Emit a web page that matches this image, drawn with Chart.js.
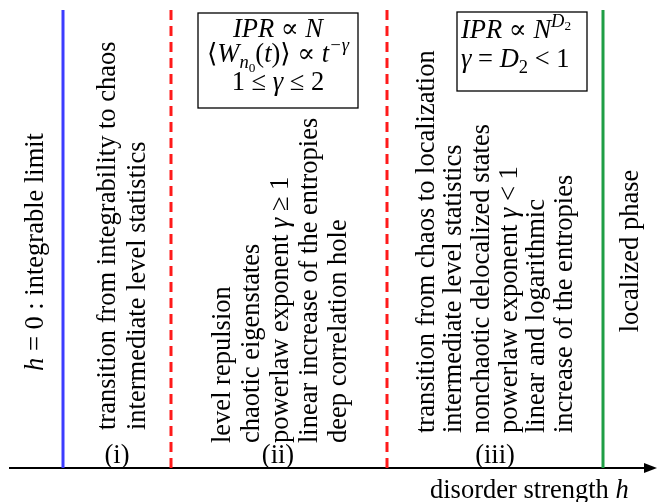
<!DOCTYPE html>
<html>
<head>
<meta charset="utf-8">
<script src="https://cdn.jsdelivr.net/npm/chart.js@4.4.1/dist/chart.umd.min.js"></script>
<style>
  html, body { margin: 0; padding: 0; background: #fff; }
  canvas { display: block; }
</style>
</head>
<body>
<canvas id="chart" width="657" height="502"></canvas>
<script>
// Schematic phase diagram along the disorder strength h (arbitrary units)
const axisRange = [-0.5, 5.5];
const hIntegrable = 0;          // blue solid line, h = 0
const hCrossovers = [1, 3];     // red dashed lines
const hLocalized = 5;           // green solid line

// text runs: [string, style]  style: '' roman, 'i' italic, 'sub', 'isub', 'sup', 'isup', 'ssub'
const leftLabel = [['h', 'i'], [' = 0 : integrable limit', '']];
const regionI = [
    [['transition from integrability to chaos', '']],
    [['intermediate level statistics', '']]
];
const regionII = [
    [['level repulsion', '']],
    [['chaotic eigenstates', '']],
    [['powerlaw exponent ', ''], ['γ', 'i'], [' ≥ 1', '']],
    [['linear increase of the entropies', '']],
    [['deep correlation hole', '']]
];
const regionIII = [
    [['transition from chaos to localization', '']],
    [['intermediate level statistics', '']],
    [['nonchaotic delocalized states', '']],
    [['powerlaw exponent ', ''], ['γ', 'i'], [' < 1', '']],
    [['linear and logarithmic', '']],
    [['increase of the entropies', '']]
];
const rightLabel = [['localized phase', '']];
const regionTags = ['(i)', '(ii)', '(iii)'];
const boxII = [
    [['IPR', 'i'], [' ∝ ', ''], ['N', 'i']],
    [['⟨', ''], ['W', 'i'], ['n', 'isub'], ['0', 'ssub'], ['(', ''], ['t', 'i'], [')⟩ ∝ ', ''], ['t', 'i'], ['−γ', 'isup']],
    [['1 ≤ ', ''], ['γ', 'i'], [' ≤ 2', '']]
];
const boxIII = [
    [['IPR', 'i'], [' ∝ ', ''], ['N', 'i'], ['D', 'isup'], ['2', 'ssup']],
    [['γ', 'i'], [' = ', ''], ['D', 'i'], ['2', 'sub'], [' < 1', '']]
];
const xTitle = [['disorder strength ', ''], ['h', 'i']];

const FONT = '"Liberation Serif", "DejaVu Serif", serif';
const BASE = 26.5;

function runStyle(style) {
    let scale = 1, dy = 0, italic = false;
    if (style === 'i') italic = true;
    if (style === 'sub' || style === 'isub') { scale = 0.7; dy = 0.22; }
    if (style === 'sup' || style === 'isup') { scale = 0.7; dy = -0.42; }
    if (style === 'ssub') { scale = 0.5; dy = 0.36; }
    if (style === 'ssup') { scale = 0.5; dy = -0.3; }
    if (style === 'isub' || style === 'isup') italic = true;
    return { scale, dy, italic };
}

function drawRuns(ctx, runs, x, y, align, size) {
    const parts = runs.map(([t, s]) => {
        const st = runStyle(s);
        const font = (st.italic ? 'italic ' : '') + (size * st.scale).toFixed(1) + 'px ' + FONT;
        ctx.font = font;
        return { t, font, dy: st.dy * size, w: ctx.measureText(t).width };
    });
    const total = parts.reduce((a, p) => a + p.w, 0);
    let cx = align === 'center' ? x - total / 2 : x;
    ctx.textAlign = 'left';
    ctx.textBaseline = 'alphabetic';
    parts.forEach(p => {
        ctx.font = p.font;
        ctx.fillText(p.t, cx, y + p.dy);
        cx += p.w;
    });
}

function drawVertical(ctx, runs, x, y, align, size) {
    ctx.save();
    ctx.translate(x, y);
    ctx.rotate(-Math.PI / 2);
    drawRuns(ctx, runs, 0, 0.33 * size, align, size);
    ctx.restore();
}

const annotations = {
    id: 'annotations',
    afterDraw(chart) {
        const ctx = chart.ctx;
        const xs = chart.scales.x;
        const area = chart.chartArea;
        ctx.save();
        ctx.fillStyle = '#000';

        // arrow head on the h axis
        const tip = xs.getPixelForValue(axisRange[1]);
        ctx.beginPath();
        ctx.moveTo(tip, area.bottom);
        ctx.lineTo(tip - 13, area.bottom - 5);
        ctx.lineTo(tip - 13, area.bottom + 5);
        ctx.closePath();
        ctx.fill();

        // vertical texts
        drawVertical(ctx, leftLabel, 34, 252, 'center', BASE);
        regionI.forEach((r, i) => drawVertical(ctx, r, 106 + i * 30, 430, 'left', BASE));
        regionII.forEach((r, i) => drawVertical(ctx, r, 221 + i * 29, 443, 'left', BASE));
        regionIII.forEach((r, i) => drawVertical(ctx, r, 425 + i * 27.6, 433, 'left', BASE));
        drawVertical(ctx, rightLabel, 629, 251, 'center', BASE);

        // region tags
        const tagX = [117, 278, 495];
        regionTags.forEach((t, i) => drawRuns(ctx, [[t, '']], tagX[i], 463, 'center', BASE));

        // boxes
        ctx.strokeStyle = '#000';
        ctx.lineWidth = 1.3;
        ctx.strokeRect(198, 13, 160, 95);
        ctx.strokeRect(457, 12, 130, 79);
        const b2y = [37, 62, 90];
        boxII.forEach((r, i) => drawRuns(ctx, r, 278, b2y[i], 'center', BASE));
        drawRuns(ctx, boxIII[0], 461, 38, 'left', BASE);
        drawRuns(ctx, boxIII[1], 461, 67, 'left', BASE);

        // axis title
        drawRuns(ctx, xTitle, 430, 498, 'left', BASE);
        ctx.restore();
    }
};

function vline(h, color, dash) {
    return {
        data: [{ x: h, y: 0 }, { x: h, y: 1 }],
        borderColor: color,
        borderWidth: 3,
        borderDash: dash || [],
        showLine: true,
        pointRadius: 0,
        clip: false
    };
}

new Chart(document.getElementById('chart'), {
    type: 'scatter',
    data: {
        datasets: [
            vline(hIntegrable, '#3c3cff'),
            ...hCrossovers.map(h => vline(h, '#ff1a1a', [10, 6])),
            vline(hLocalized, '#1f9e45'),
            {
                data: [{ x: axisRange[0], y: 0 }, { x: axisRange[1] - 0.1, y: 0 }],
                borderColor: '#000',
                borderWidth: 2.2,
                showLine: true,
                pointRadius: 0,
                clip: false
            }
        ]
    },
    options: {
        responsive: false,
        animation: false,
        layout: { padding: { left: 9, right: 0, top: 10, bottom: 34 } },
        scales: {
            x: { type: 'linear', min: axisRange[0], max: axisRange[1], display: false },
            y: { min: 0, max: 1, display: false }
        },
        plugins: { legend: { display: false }, tooltip: { enabled: false } }
    },
    plugins: [annotations]
});
</script>
</body>
</html>
